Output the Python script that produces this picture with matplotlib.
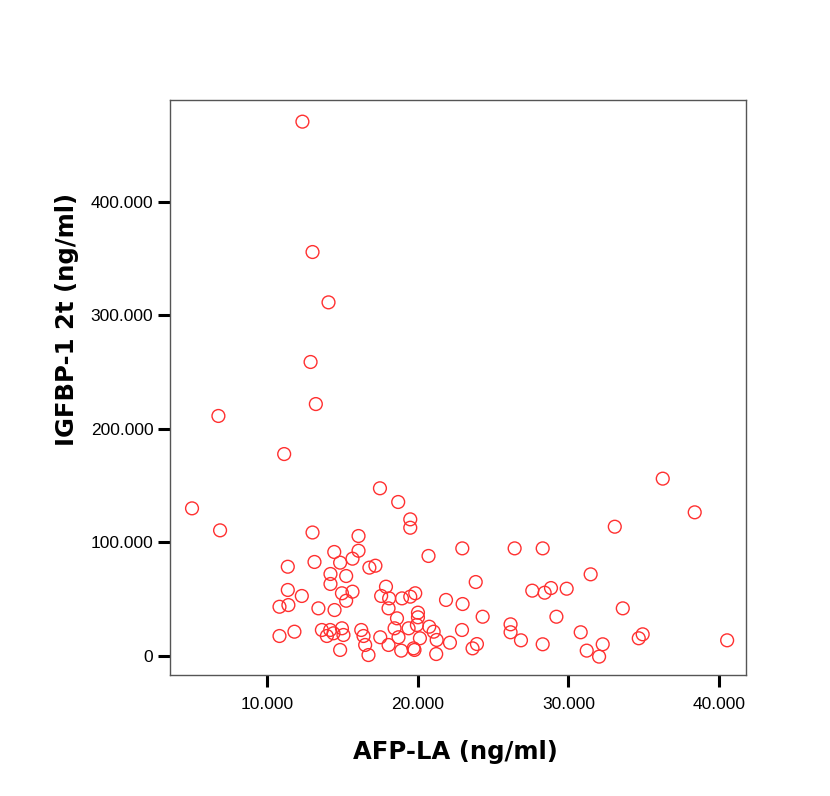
import matplotlib
matplotlib.use("Agg")
import matplotlib.pyplot as plt
from matplotlib.ticker import FuncFormatter

afp_la = [
    12.36, 13.03, 14.09, 12.90, 13.25, 6.79, 11.15, 17.50, 18.71, 19.51, 19.51, 5.04, 6.90,
    36.25, 38.37, 33.07,
    13.03, 16.08, 22.96, 26.43, 28.29, 20.72, 14.47, 16.08, 15.68, 14.86, 13.16, 11.39,
    16.80, 17.20, 14.22, 15.26, 14.22, 31.47, 23.85, 11.39, 15.68, 14.98, 12.32, 15.26,
    10.84, 11.43, 13.42, 14.49, 17.90, 17.58, 18.11, 18.96, 19.51, 19.84, 18.07, 21.88,
    22.98, 20.02, 20.02, 18.63, 27.60, 28.42, 28.84, 29.88, 33.60, 24.31, 29.20,
    10.84, 11.83, 13.65, 13.98, 14.20, 14.42, 14.98, 15.08, 14.86, 16.26, 16.41, 16.52,
    16.74, 19.95, 18.47, 19.40, 20.77, 21.06, 22.94, 17.52, 18.73, 20.15, 21.26, 22.14,
    18.07, 18.91, 19.73, 19.79, 21.23, 26.16, 26.16, 26.85, 30.81, 28.29, 23.64, 23.93,
    31.21, 32.27, 32.03, 34.66, 34.92, 40.52,
]
igfbp1 = [
    470.9, 355.9, 311.5, 258.9, 221.8, 211.3, 177.7, 147.5, 135.4, 120.1, 112.7, 129.8, 110.4,
    156.0, 126.3, 113.6,
    108.5, 105.4, 94.5, 94.5, 94.5, 87.8, 91.3, 92.4, 85.4, 81.9, 82.5, 78.3,
    77.5, 79.2, 71.9, 70.1, 63.1, 71.6, 64.8, 57.8, 56.3, 54.9, 52.5, 48.3,
    43.0, 44.5, 41.6, 40.1, 60.7, 52.5, 50.4, 50.4, 51.9, 54.9, 41.6, 49.0,
    45.4, 37.8, 33.7, 32.8, 57.2, 55.4, 59.5, 58.9, 41.6, 34.2, 34.2,
    17.2, 21.0, 22.5, 17.2, 22.5, 19.6, 24.0, 18.1, 4.9, 22.5, 17.2, 9.3,
    0.4, 26.9, 24.0, 24.0, 25.4, 21.0, 22.5, 16.1, 16.1, 15.2, 13.7, 11.3,
    9.3, 4.3, 6.3, 4.9, 1.3, 27.5, 20.5, 13.4, 20.5, 9.9, 6.3, 10.1,
    4.3, 9.9, -1.0, 15.2, 18.7, 13.4,
]
x_ticks = [10, 20, 30, 40]
y_ticks = [0, 100, 200, 300, 400]
x_label = "AFP-LA (ng/ml)"
y_label = "IGFBP-1 2t (ng/ml)"

plt.rcParams['font.family'] = ['Liberation Sans', 'DejaVu Sans']

fig = plt.figure(figsize=(8.30, 7.96), dpi=100)
fig.patch.set_facecolor('white')
ax = fig.add_axes([170/830, 1-675/796, 576/830, 575/796])

ax.scatter(afp_la, igfbp1, s=85, facecolors='none', edgecolors='#ff3030',
           linewidths=1.0, zorder=3)

ax.set_xlim(3.58, 41.77)
ax.set_ylim(-17.2, 490)

ax.set_xticks(x_ticks)
ax.set_yticks(y_ticks)

def fmt(v, pos):
    return "0" if v == 0 else f"{v:.3f}"
ax.xaxis.set_major_formatter(FuncFormatter(fmt))
ax.yaxis.set_major_formatter(FuncFormatter(fmt))

for sp in ax.spines.values():
    sp.set_color('#555555')
    sp.set_linewidth(1.0)

ax.tick_params(axis='both', direction='out', length=8.5, width=2.2, color='black',
               labelsize=12.5, pad=3.5)
ax.tick_params(axis='x', pad=7)

fig.text(455/830, 1-752/796, x_label, ha='center', va='center',
         fontsize=17.5, fontweight='bold', family='DejaVu Sans')
fig.text(67/830, 1-319/796, y_label, ha='center', va='center',
         fontsize=17.5, fontweight='bold', rotation=90, family='DejaVu Sans')

fig.savefig("out.png", dpi=100)
